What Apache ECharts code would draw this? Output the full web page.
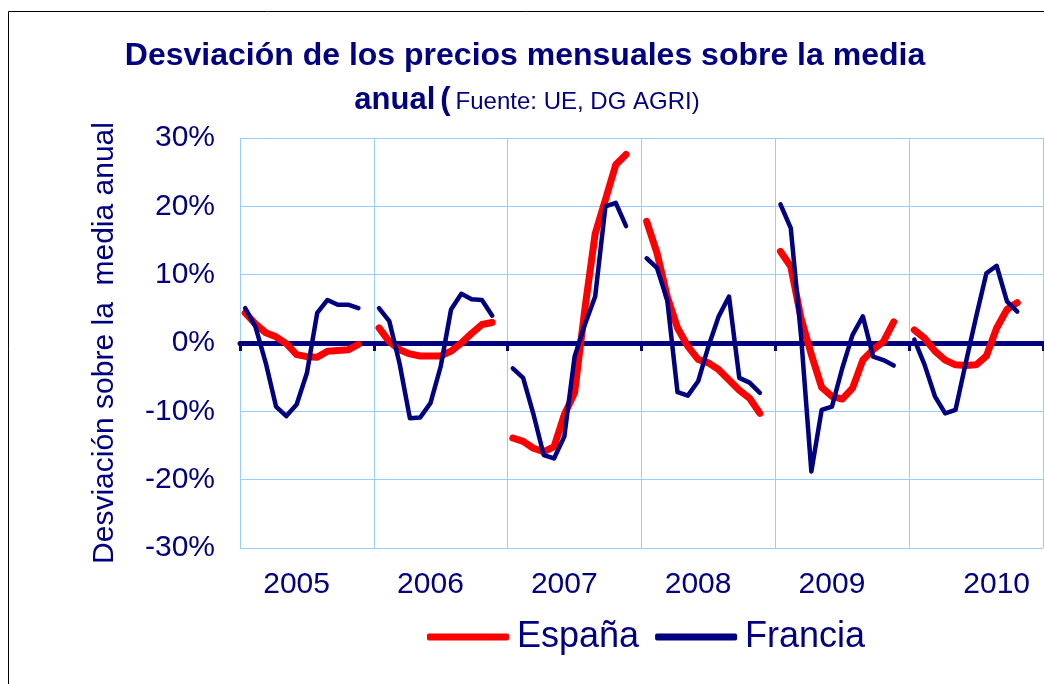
<!DOCTYPE html>
<html>
<head>
<meta charset="utf-8">
<script src="https://cdn.jsdelivr.net/npm/echarts@6/dist/echarts.min.js"></script>
<style>
html,body{margin:0;padding:0;background:#fff;}
#chart{width:1044px;height:684px;}
</style>
</head>
<body>
<div id="chart"></div>
<script>
// ---- Data (percent deviation of monthly price over yearly mean) ----
const years = ['2005', '2006', '2007', '2008', '2009', '2010'];
const monthsPerSlotGroup = 13; // 12 months + 1 empty slot between years

const espana2005 = [4.4, 2.8, 1.5, 0.9, -0.1, -1.7, -2.0, -2.1, -1.2, -1.1, -1.0, -0.2];
const espana2006 = [2.2, 0.2, -1.0, -1.6, -1.9, -1.9, -1.9, -1.2, 0.0, 1.4, 2.7, 3.0];
const espana2007 = [-13.9, -14.4, -15.4, -15.9, -15.2, -10.5, -7.3, 5.0, 16.0, 21.0, 26.1, 27.6];
const espana2008 = [17.8, 13.2, 6.8, 2.2, -0.5, -2.4, -2.9, -3.9, -5.4, -6.9, -8.1, -10.3];
const espana2009 = [13.4, 11.2, 3.6, -1.7, -6.5, -7.8, -8.2, -6.6, -2.5, -1.0, 0.2, 3.1];
const espana2010 = [1.9, 0.7, -1.2, -2.5, -3.2, -3.3, -3.2, -1.9, 2.2, 4.9, 5.9];

const francia2005 = [5.1, 2.4, -2.9, -9.3, -10.7, -9.0, -4.4, 4.4, 6.3, 5.6, 5.6, 5.1];
const francia2006 = [5.1, 3.2, -3.0, -11.0, -10.9, -8.8, -3.4, 4.9, 7.2, 6.4, 6.3, 4.0];
const francia2007 = [-3.7, -5.1, -10.4, -16.4, -16.9, -13.7, -2.0, 2.7, 6.8, 20.0, 20.5, 17.1];
const francia2008 = [12.4, 11.0, 6.3, -7.2, -7.7, -5.6, -0.5, 3.9, 6.8, -5.1, -5.8, -7.3];
const francia2009 = [20.3, 16.8, 1.0, -18.8, -9.8, -9.3, -3.7, 1.2, 3.9, -2.0, -2.5, -3.3];
const francia2010 = [0.5, -3.2, -7.8, -10.3, -9.8, -2.9, 3.8, 10.2, 11.3, 6.1, 4.6];

const yTickValues = [-30, -20, -10, 0, 10, 20, 30];

// ---- Build category axis (one slot per month, plus an empty slot after each year) ----
const categories = [];
years.forEach(y => {
  for (let m = 1; m <= 12; m++) categories.push(y + '-' + m);
  categories.push(y + '-gap');
});
// slot (month index) under which each year label is printed
const yearLabelSlot = {'2005': 5, '2006': 5, '2007': 5, '2008': 5, '2009': 5, '2010': 8};

function buildSeries(perYear) {
  const out = [];
  perYear.forEach(arr => {
    for (let m = 0; m < 12; m++) out.push(m < arr.length ? arr[m] : null);
    out.push(null);
  });
  return out;
}
const espanaData = buildSeries([espana2005, espana2006, espana2007, espana2008, espana2009, espana2010]);
const franciaData = buildSeries([francia2005, francia2006, francia2007, francia2008, francia2009, francia2010]);

const NAVY = '#000080';
const GRID = '#99ccff';
const FONT = '"Liberation Sans", Arial, sans-serif';

const chart = echarts.init(document.getElementById('chart'), null, {renderer: 'canvas'});
chart.setOption({
  animation: false,
  backgroundColor: '#ffffff',
  textStyle: {fontFamily: FONT, color: NAVY},
  graphic: [{
    type: 'rect', shape: {x: 8.5, y: 11.5, width: 1100, height: 720},
    style: {fill: 'none', stroke: '#000000', lineWidth: 1}, z: -1
  }],
  title: [{
    text: 'Desviación de los precios mensuales sobre la media',
    left: 520, top: 35, textAlign: 'center',
    textStyle: {fontFamily: FONT, fontSize: 32, fontWeight: 'bold', color: NAVY}
  }, {
    text: '{b|anual} {b|(} {n|Fuente: UE, DG AGRI)}',
    left: 522, top: 80, textAlign: 'center',
    textStyle: {
      fontWeight: 'normal',
      rich: {
        b: {fontFamily: FONT, fontSize: 31, fontWeight: 'bold', color: NAVY},
        n: {fontFamily: FONT, fontSize: 24, fontWeight: 'normal', color: NAVY, padding: [4, 0, 0, 0]}
      }
    }
  }],
  legend: {
    left: 422, top: 614,
    itemWidth: 82, itemHeight: 7, itemGap: 16,
    icon: 'roundRect',
    textStyle: {fontFamily: FONT, fontSize: 36, color: NAVY, padding: [0, 0, 0, 3]},
    data: ['España', 'Francia']
  },
  grid: {left: 240, right: 1, top: 138, bottom: 136, containLabel: false},
  xAxis: [{
    type: 'category',
    data: categories,
    boundaryGap: true,
    axisLine: {show: true, onZero: true, lineStyle: {color: NAVY, width: 5}},
    axisTick: {show: true, interval: (i) => i % monthsPerSlotGroup === 0, length: 8, lineStyle: {color: NAVY, width: 3}},
    axisLabel: {show: false},
    splitLine: {show: true, interval: (i) => i % monthsPerSlotGroup === 0, lineStyle: {color: GRID, width: 1}}
  }, {
    type: 'category',
    data: categories,
    boundaryGap: true,
    position: 'bottom',
    axisLine: {show: false, onZero: false},
    axisTick: {show: false},
    splitLine: {show: false},
    axisLabel: {
      show: true, margin: 22, fontSize: 30, fontFamily: FONT, color: NAVY,
      interval: (i, v) => {
        const [y, m] = v.split('-');
        return m !== 'gap' && (parseInt(m, 10) - 1) === yearLabelSlot[y];
      },
      formatter: (v) => v.split('-')[0]
    }
  }],
  yAxis: {
    type: 'value',
    min: yTickValues[0], max: yTickValues[yTickValues.length - 1], interval: 10,
    name: 'Desviación sobre la  media anual',
    nameLocation: 'middle', nameRotate: 90, nameGap: 120,
    nameTextStyle: {fontFamily: FONT, fontSize: 30, color: NAVY},
    axisLine: {show: false},
    axisTick: {show: false},
    axisLabel: {fontFamily: FONT, fontSize: 30, color: NAVY, margin: 25, formatter: '{value}%'},
    splitLine: {show: true, lineStyle: {color: GRID, width: 1}}
  },
  series: [{
    name: 'España', type: 'line', data: espanaData, xAxisIndex: 0,
    symbol: 'none', connectNulls: false, z: 3,
    itemStyle: {color: '#ff0000'},
    lineStyle: {color: '#ff0000', width: 7, cap: 'round', join: 'round'}
  }, {
    name: 'Francia', type: 'line', data: franciaData, xAxisIndex: 0,
    symbol: 'none', connectNulls: false, z: 4,
    itemStyle: {color: NAVY},
    lineStyle: {color: NAVY, width: 4.5, cap: 'round', join: 'round'}
  }]
});
</script>
</body>
</html>
